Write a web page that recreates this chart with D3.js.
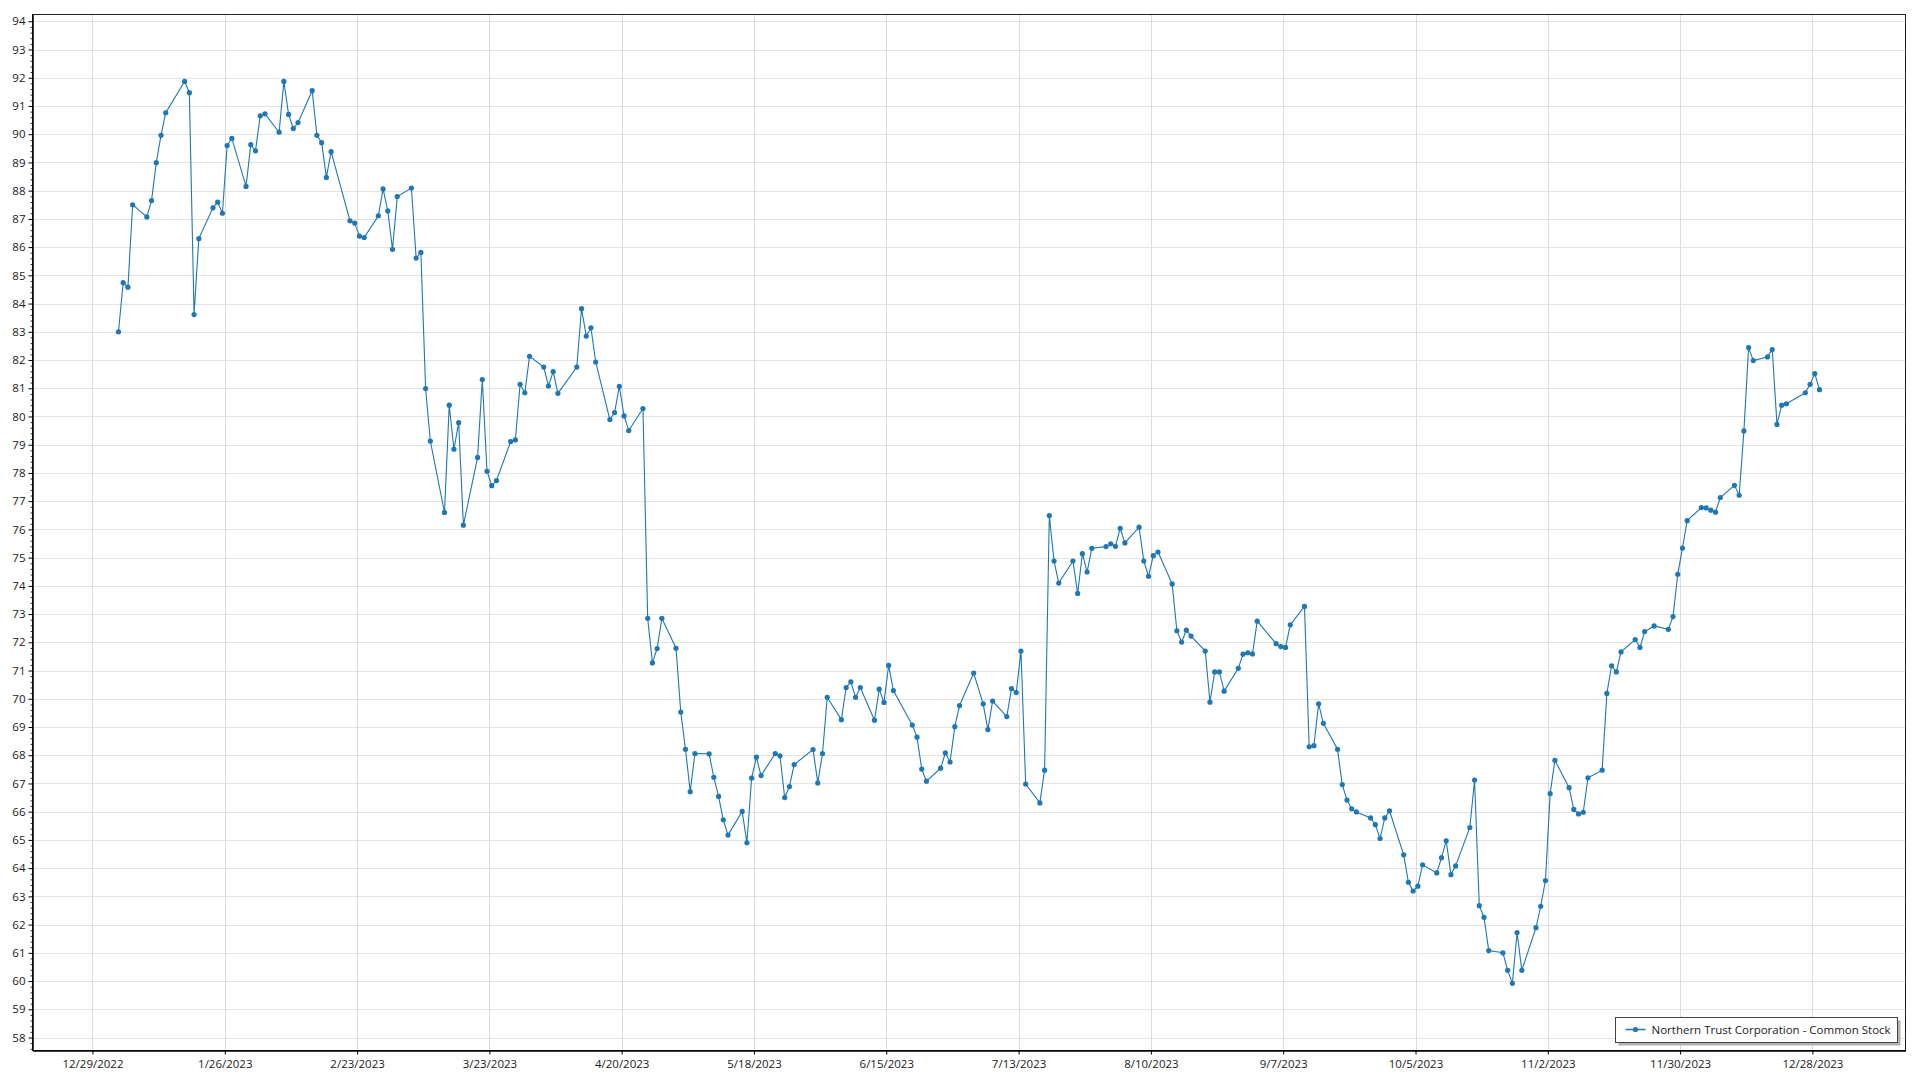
<!DOCTYPE html>
<html>
<head>
<meta charset="utf-8">
<script src="https://cdn.jsdelivr.net/npm/d3@7"></script>
<style>
  html, body { margin: 0; padding: 0; background: #ffffff; }
  svg { display: block; }
  text { font-family: "Open Sans", "Noto Sans", sans-serif; fill: #1a1a1a; }
</style>
</head>
<body>
<svg id="chart" width="1920" height="1080"></svg>
<script>
// ---- Data ----
const seriesName = "Northern Trust Corporation - Common Stock";

const tradingDays = [
  "2023-01-03","2023-01-04","2023-01-05","2023-01-06","2023-01-09","2023-01-10","2023-01-11","2023-01-12","2023-01-13","2023-01-17",
  "2023-01-18","2023-01-19","2023-01-20","2023-01-23","2023-01-24","2023-01-25","2023-01-26","2023-01-27","2023-01-30","2023-01-31",
  "2023-02-01","2023-02-02","2023-02-03","2023-02-06","2023-02-07","2023-02-08","2023-02-09","2023-02-10","2023-02-13","2023-02-14",
  "2023-02-15","2023-02-16","2023-02-17","2023-02-21","2023-02-22","2023-02-23","2023-02-24","2023-02-27","2023-02-28",
  "2023-03-01","2023-03-02","2023-03-03","2023-03-06","2023-03-07","2023-03-08","2023-03-09","2023-03-10","2023-03-13","2023-03-14",
  "2023-03-15","2023-03-16","2023-03-17","2023-03-20","2023-03-21","2023-03-22","2023-03-23","2023-03-24","2023-03-27","2023-03-28",
  "2023-03-29","2023-03-30","2023-03-31",
  "2023-04-03","2023-04-04","2023-04-05","2023-04-06","2023-04-10","2023-04-11","2023-04-12","2023-04-13","2023-04-14","2023-04-17",
  "2023-04-18","2023-04-19","2023-04-20","2023-04-21","2023-04-24","2023-04-25","2023-04-26","2023-04-27","2023-04-28",
  "2023-05-01","2023-05-02","2023-05-03","2023-05-04","2023-05-05","2023-05-08","2023-05-09","2023-05-10","2023-05-11","2023-05-12",
  "2023-05-15","2023-05-16","2023-05-17","2023-05-18","2023-05-19","2023-05-22","2023-05-23","2023-05-24","2023-05-25","2023-05-26",
  "2023-05-30","2023-05-31",
  "2023-06-01","2023-06-02","2023-06-05","2023-06-06","2023-06-07","2023-06-08","2023-06-09","2023-06-12","2023-06-13","2023-06-14",
  "2023-06-15","2023-06-16","2023-06-20","2023-06-21","2023-06-22","2023-06-23","2023-06-26","2023-06-27","2023-06-28","2023-06-29",
  "2023-06-30",
  "2023-07-03","2023-07-05","2023-07-06","2023-07-07","2023-07-10","2023-07-11","2023-07-12","2023-07-13","2023-07-14","2023-07-17",
  "2023-07-18","2023-07-19","2023-07-20","2023-07-21","2023-07-24","2023-07-25","2023-07-26","2023-07-27","2023-07-28","2023-07-31",
  "2023-08-01","2023-08-02","2023-08-03","2023-08-04","2023-08-07","2023-08-08","2023-08-09","2023-08-10","2023-08-11","2023-08-14",
  "2023-08-15","2023-08-16","2023-08-17","2023-08-18","2023-08-21","2023-08-22","2023-08-23","2023-08-24","2023-08-25","2023-08-28",
  "2023-08-29","2023-08-30","2023-08-31",
  "2023-09-01","2023-09-05","2023-09-06","2023-09-07","2023-09-08","2023-09-11","2023-09-12","2023-09-13","2023-09-14","2023-09-15",
  "2023-09-18","2023-09-19","2023-09-20","2023-09-21","2023-09-22","2023-09-25","2023-09-26","2023-09-27","2023-09-28","2023-09-29",
  "2023-10-02","2023-10-03","2023-10-04","2023-10-05","2023-10-06","2023-10-09","2023-10-10","2023-10-11","2023-10-12","2023-10-13",
  "2023-10-16","2023-10-17","2023-10-18","2023-10-19","2023-10-20","2023-10-23","2023-10-24","2023-10-25","2023-10-26","2023-10-27",
  "2023-10-30","2023-10-31",
  "2023-11-01","2023-11-02","2023-11-03","2023-11-06","2023-11-07","2023-11-08","2023-11-09","2023-11-10","2023-11-13","2023-11-14",
  "2023-11-15","2023-11-16","2023-11-17","2023-11-20","2023-11-21","2023-11-22","2023-11-24","2023-11-27","2023-11-28","2023-11-29",
  "2023-11-30",
  "2023-12-01","2023-12-04","2023-12-05","2023-12-06","2023-12-07","2023-12-08","2023-12-11","2023-12-12","2023-12-13","2023-12-14",
  "2023-12-15","2023-12-18","2023-12-19","2023-12-20","2023-12-21","2023-12-22","2023-12-26","2023-12-27","2023-12-28","2023-12-29"
];

const closePrices = [
  83.00,84.74,84.58,87.50,87.07,87.65,88.99,89.96,90.76,91.87,
  91.47,83.61,86.30,87.39,87.59,87.20,89.60,89.85,88.15,89.63,
  89.41,90.65,90.72,90.07,91.87,90.70,90.20,90.41,91.54,89.96,
  89.70,88.47,89.38,86.93,86.85,86.39,86.34,87.11,88.06,
  87.28,85.92,87.79,88.09,85.61,85.81,80.99,79.13,76.60,80.40,
  78.84,79.78,76.15,78.55,81.31,78.06,77.55,77.73,79.11,79.17,
  81.14,80.84,82.13,
  81.75,81.08,81.59,80.82,81.75,83.82,82.85,83.14,81.93,79.89,
  80.14,81.07,80.02,79.50,80.28,72.85,71.27,71.78,72.85,
  71.79,69.53,68.21,66.71,68.06,68.05,67.22,66.54,65.71,65.17,
  66.01,64.90,67.19,67.93,67.28,68.06,67.98,66.50,66.89,67.67,
  68.20,67.02,
  68.06,70.05,69.26,70.40,70.60,70.05,70.40,69.24,70.34,69.87,
  71.18,70.29,69.07,68.64,67.51,67.08,67.54,68.08,67.76,69.01,
  69.76,
  70.91,69.82,68.91,69.92,69.37,70.36,70.22,71.69,66.98,66.31,
  67.47,76.49,74.88,74.10,74.88,73.73,75.14,74.49,75.33,75.39,
  75.49,75.40,76.04,75.52,76.08,74.88,74.34,75.07,75.20,74.07,
  72.41,72.01,72.43,72.22,71.69,69.88,70.95,70.95,70.27,71.08,
  71.58,71.63,71.59,
  72.75,71.95,71.85,71.82,72.62,73.27,68.30,68.34,69.82,69.13,
  68.21,66.96,66.41,66.10,65.99,65.78,65.54,65.05,65.78,66.03,
  64.47,63.50,63.19,63.36,64.12,63.83,64.37,64.97,63.77,64.08,
  65.44,67.12,62.67,62.26,61.08,61.00,60.38,59.92,61.72,60.38,
  61.89,62.65,
  63.56,66.64,67.82,66.85,66.08,65.92,65.98,67.20,67.47,70.19,
  71.17,70.95,71.66,72.10,71.82,72.38,72.58,72.46,72.91,74.41,
  75.34,
  76.31,76.77,76.76,76.68,76.61,77.13,77.56,77.21,79.49,82.44,
  81.98,82.11,82.37,79.72,80.40,80.45,80.84,81.14,81.52,80.95
];

const xTickLabels = ["12/29/2022","1/26/2023","2/23/2023","3/23/2023","4/20/2023","5/18/2023","6/15/2023",
                     "7/13/2023","8/10/2023","9/7/2023","10/5/2023","11/2/2023","11/30/2023","12/28/2023"];
const yTickValues = d3.range(58, 95, 1);

// ---- Layout ----
const plot = { left: 32.5, top: 14.5, right: 1905.5, bottom: 1050.5 };
const lineColor = "#1f77b4";

const parseISO = d3.timeParse("%Y-%m-%d");
const parseTick = d3.timeParse("%m/%d/%Y");
const data = tradingDays.map((d, i) => {
  const t = parseISO(d); t.setHours(12);
  return { date: t, value: closePrices[i] };
});

const x = d3.scaleTime()
  .domain([new Date(2022, 11, 16, 7, 20), new Date(2024, 0, 16, 16, 50)])
  .range([plot.left, plot.right]);
const y = d3.scaleLinear()
  .domain([57.54, 94.24])
  .range([plot.bottom, plot.top]);

const svg = d3.select("#chart");

// Gridlines
const xTicks = xTickLabels.map(s => parseTick(s));
svg.append("g").selectAll("line").data(yTickValues).join("line")
  .attr("x1", plot.left).attr("x2", plot.right)
  .attr("y1", d => Math.round(y(d)) + 0.5).attr("y2", d => Math.round(y(d)) + 0.5)
  .attr("stroke", "#e3e3e3").attr("stroke-width", 1);
svg.append("g").selectAll("line").data(xTicks).join("line")
  .attr("x1", d => Math.round(x(d)) + 0.5).attr("x2", d => Math.round(x(d)) + 0.5)
  .attr("y1", plot.top).attr("y2", plot.bottom)
  .attr("stroke", "#dcdcdc").attr("stroke-width", 1);

// Frame (top/right)
svg.append("rect")
  .attr("x", plot.left).attr("y", plot.top)
  .attr("width", plot.right - plot.left).attr("height", plot.bottom - plot.top)
  .attr("fill", "none").attr("stroke", "#222").attr("stroke-width", 1);

// Axes
const yAxis = d3.axisLeft(y).tickValues(yTickValues).tickSize(4).tickSizeOuter(0).tickPadding(3).tickFormat(d3.format("d"));
const yMinor = d3.axisLeft(y).tickValues(d3.range(57.6, 94.2, 0.2).filter(v => Math.abs(v - Math.round(v)) > 0.01)).tickSize(2).tickSizeOuter(0).tickFormat("");
const xAxis = d3.axisBottom(x).tickValues(xTicks).tickSize(4).tickSizeOuter(0).tickPadding(5).tickFormat(d3.timeFormat("%-m/%-d/%Y"));

const gyMinor = svg.append("g").attr("transform", `translate(${plot.left},0)`).call(yMinor);
gyMinor.select(".domain").remove();
gyMinor.selectAll("line").attr("stroke", "#333");

const gy = svg.append("g").attr("transform", `translate(${plot.left},0)`).call(yAxis);
gy.select(".domain").attr("stroke", "#000").attr("stroke-width", 1.5);
gy.selectAll(".tick line").attr("stroke", "#000");
gy.selectAll(".tick text").attr("font-size", "11.5px").attr("font-family", "'Open Sans', 'Noto Sans', sans-serif").attr("fill", "#1a1a1a");

const gx = svg.append("g").attr("transform", `translate(0,${plot.bottom})`).call(xAxis);
gx.select(".domain").attr("stroke", "#000").attr("stroke-width", 1.5);
gx.selectAll(".tick line").attr("stroke", "#000");
gx.selectAll(".tick text").attr("font-size", "11.5px").attr("font-family", "'Open Sans', 'Noto Sans', sans-serif").attr("fill", "#1a1a1a");

// Series
const line = d3.line().x(d => x(d.date)).y(d => y(d.value));
svg.append("path").datum(data)
  .attr("d", line).attr("fill", "none")
  .attr("stroke", lineColor).attr("stroke-width", 1.1);
svg.append("g").selectAll("circle").data(data).join("circle")
  .attr("cx", d => x(d.date)).attr("cy", d => y(d.value))
  .attr("r", 2.6).attr("fill", lineColor);

// Legend
const lg = svg.append("g").attr("transform", "translate(1615.5,1017.5)");
lg.append("rect").attr("x", 3).attr("y", 3).attr("width", 282).attr("height", 25).attr("fill", "#b0b0b0");
lg.append("rect").attr("x", 0).attr("y", 0).attr("width", 282).attr("height", 25)
  .attr("fill", "#fff").attr("stroke", "#444").attr("stroke-width", 1);
lg.append("line").attr("x1", 10).attr("x2", 30).attr("y1", 12).attr("y2", 12)
  .attr("stroke", lineColor).attr("stroke-width", 1.5);
lg.append("circle").attr("cx", 20).attr("cy", 12).attr("r", 2.6).attr("fill", lineColor);
lg.append("text").attr("x", 36).attr("y", 12).attr("dy", "0.35em")
  .attr("font-size", "11.5px").text(seriesName);
</script>
</body>
</html>
